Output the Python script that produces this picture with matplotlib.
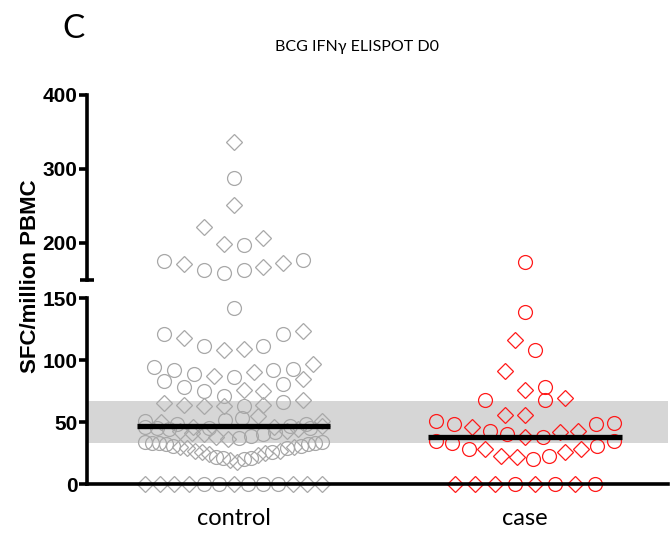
import matplotlib
matplotlib.use("Agg")
import matplotlib.pyplot as plt
import numpy as np

# ── data (SFC / million PBMC), read row by row, left to right ────────────────
categories = ["control", "case"]
title = "BCG IFN\u03b3 ELISPOT D0"

control_rows = [
    [337],
    [288],
    [251],
    [221, 199, 197, 207],
    [176, 171, 164, 160, 164, 167, 173, 177],
    [142],
    [121, 118, 111, 108, 109, 111, 121, 123],
    [94, 92, 89, 87.5, 86, 90, 92, 93, 97],
    [83, 78, 75, 71, 76, 75, 81, 85],
    [65, 64, 63, 63, 63, 64, 66, 68],
    [51, 50, 48, 46, 45, 52, 53, 55, 46, 47, 48, 51],
    [46, 45, 44, 43, 41, 40, 38, 36, 37, 39, 40, 42, 43, 44, 45, 47],
    [34, 33, 33, 32, 31, 30, 29, 27, 26, 24, 22, 21, 19, 18, 20, 21,
     23, 25, 26, 27, 29, 30, 31, 32, 33, 34],
    [0] * 13,
]
control_marks = [
    "D", "C", "D", "DDCD", "CDCCCDDC", "C", "CDCDDCCD", "CCCDCDCCD",
    "CCCCDDCD", "DDDDCDCD", "CDCDCCCDDCCD", "CCCDDDDDCCCCDDCD",
    "CCCCCDDDDDCCDDCCDDCDCDCCCC", "DDDDCCDCCCDDD",
]

case_rows = [
    [174],
    [139],
    [116, 108],
    [91, 75.5, 78],
    [67.5, 55.5, 55.5, 67.5, 69],
    [50.6, 48, 46, 43, 40, 38, 38, 42, 43, 48, 49],
    [34.5, 33, 28, 28, 22.5, 21.7, 20, 22.5, 25.7, 28, 30.5, 34.5],
    [0] * 8,
]
case_marks = [
    "C", "C", "DC", "DDC", "CDDCD", "CCDCCDCDDCC", "CCCDDDCCDDCC", "DDDCDCDC",
]

reference_band = [33, 67]

# ── style ────────────────────────────────────────────────────────────────────
colors = ["#a8a8a8", "#ff1a1a"]
BREAK = 150
STEP = 0.0686        # horizontal spacing between neighbours (x units)
HALF_W = 0.304       # widest half-width of a row
MED_HALF = 0.332

plt.rcParams["font.family"] = ["Liberation Sans", "DejaVu Sans"]
label_font = ["Lato", "Open Sans", "DejaVu Sans"]

fig = plt.figure(figsize=(6.7, 5.33), dpi=100)
ax_low = fig.add_axes([0.1299, 0.0919, 0.867, 0.349])
ax_up = fig.add_axes([0.1299, 0.4747, 0.867, 0.3471])


def row_offsets(n):
    if n == 1:
        return np.zeros(1)
    step = min(STEP, 2 * HALF_W / (n - 1))
    return (np.arange(n) - (n - 1) / 2) * step


for gi, (rows, marks) in enumerate([(control_rows, control_marks),
                                    (case_rows, case_marks)]):
    for vals, mk in zip(rows, marks):
        xs = gi + row_offsets(len(vals))
        for x, v, m in zip(xs, vals, mk):
            ax = ax_up if v > BREAK else ax_low
            if m == "C":
                ax.plot(x, v, ls="none", marker="o", ms=10, mfc="none",
                        mec=colors[gi], mew=0.9, clip_on=False, zorder=2)
            else:
                ax.plot(x, v, ls="none", marker="D", ms=8.4, mfc="none",
                        mec=colors[gi], mew=0.9, clip_on=False, zorder=2)
    allv = np.concatenate([np.asarray(r, float) for r in rows])
    med = np.median(allv)
    ax_low.plot([gi - MED_HALF, gi + MED_HALF], [med, med], color="black",
                lw=3.8, solid_capstyle="butt", zorder=4)

ax_low.axhspan(*reference_band, color="#d6d6d6", lw=0, zorder=0)

xlim = (-0.5026, 1.4906)
for ax in (ax_low, ax_up):
    ax.set_xlim(*xlim)
    ax.patch.set_alpha(0)
    for s in ("top", "right"):
        ax.spines[s].set_visible(False)
    ax.spines["left"].set_linewidth(2.6)
    ax.spines["left"].set_zorder(5)
    ax.tick_params(axis="y", length=6, width=2.6, labelsize=15, pad=1)

ax_low.set_ylim(0, BREAK)
ax_low.set_yticks([0, 50, 100, 150])
ax_low.set_yticks([BREAK], minor=True)
ax_low.tick_params(axis="y", which="minor", direction="in", length=5,
                   width=2.6)
ax_low.spines["bottom"].set_linewidth(2.6)
ax_low.spines["bottom"].set_zorder(5)
ax_low.set_xticks([0, 1])
ax_low.set_xticklabels(categories, fontsize=17, family=label_font)
ax_low.tick_params(axis="x", length=0, pad=17)
ax_low.set_xticks([0], minor=True)
ax_low.tick_params(axis="x", which="minor", length=4, width=3.5)

ax_up.set_ylim(BREAK, 400)
ax_up.set_yticks([200, 300, 400])
ax_up.set_yticks([BREAK], minor=True)
ax_up.tick_params(axis="y", which="minor", direction="inout", length=10,
                  width=2.6)
ax_up.spines["bottom"].set_visible(False)
ax_up.set_xticks([])

for ax in (ax_low, ax_up):
    for lab in ax.get_yticklabels():
        lab.set_fontweight("bold")

fig.text(0.046, 0.482, "SFC/million PBMC", rotation=90, ha="center",
         va="center", fontsize=16, fontweight="bold")
fig.text(0.533, 0.912, title, ha="center", va="center", fontsize=11.5,
         family=label_font)
fig.text(0.093, 0.945, "C", ha="left", va="center", fontsize=24,
         family=label_font)

fig.savefig("out.png", dpi=100)
